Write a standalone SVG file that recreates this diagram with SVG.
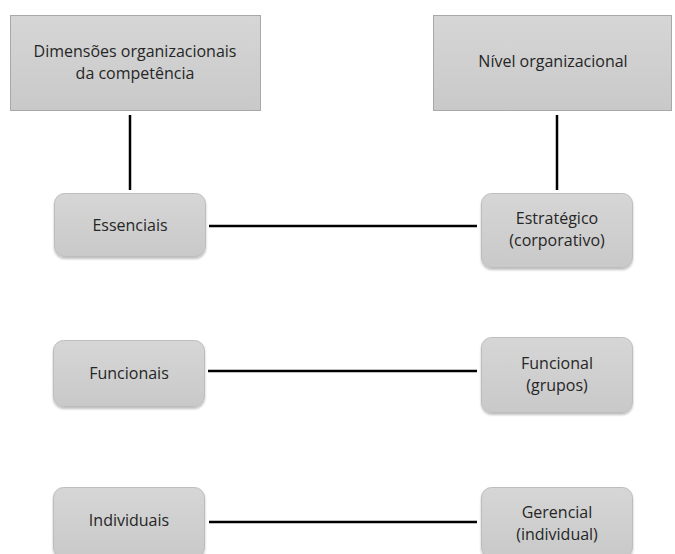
<svg xmlns="http://www.w3.org/2000/svg" width="675" height="554" viewBox="0 0 675 554">
<defs>
<linearGradient id="g" x1="0" y1="0" x2="0" y2="1">
<stop offset="0" stop-color="#d6d6d6"/>
<stop offset="1" stop-color="#c9c9c9"/>
</linearGradient>
<filter id="sh" x="-10%" y="-10%" width="120%" height="130%">
<feGaussianBlur in="SourceAlpha" stdDeviation="1.2"/>
<feOffset dx="0" dy="1.5" result="b"/>
<feComponentTransfer><feFuncA type="linear" slope="0.25"/></feComponentTransfer>
<feMerge><feMergeNode/><feMergeNode in="SourceGraphic"/></feMerge>
</filter>
</defs>
<style>
.hdr{fill:url(#g);stroke:#a8a8a8;stroke-width:1}
.box{fill:url(#g);stroke:#bdbdbd;stroke-width:1;filter:url(#sh)}
text{font-family:"Open Sans","Liberation Sans",sans-serif;font-size:16px;fill:#262626;text-anchor:middle}
.ln{stroke:#000;stroke-width:2.5;fill:none}
</style>
<rect width="675" height="554" fill="#fff"/>
<g id="connectors">
<line class="ln" x1="130" y1="115" x2="130" y2="190"/>
<line class="ln" x1="557" y1="115" x2="557" y2="190"/>
<line class="ln" x1="209" y1="226" x2="477" y2="226"/>
<line class="ln" x1="208" y1="371" x2="477" y2="371"/>
<line class="ln" x1="209" y1="522" x2="477" y2="522"/>
</g>
<g id="dim">
<rect class="hdr" x="10.5" y="15.5" width="250" height="95"/>
<text x="135" y="57">Dimensões organizacionais</text>
<text x="135" y="79">da competência</text>
</g>
<g id="nivel">
<rect class="hdr" x="433.5" y="15.5" width="238" height="95"/>
<text x="553" y="67">Nível organizacional</text>
</g>
<g id="essenciais">
<rect class="box" x="54.5" y="193.5" width="151" height="63" rx="10"/>
<text x="130" y="231">Essenciais</text>
</g>
<g id="estrategico">
<rect class="box" x="481.5" y="193.5" width="151" height="74" rx="10"/>
<text x="557" y="224">Estratégico</text>
<text x="557" y="246">(corporativo)</text>
</g>
<g id="funcionais">
<rect class="box" x="53.5" y="340.5" width="151" height="66" rx="10"/>
<text x="129" y="379">Funcionais</text>
</g>
<g id="funcional">
<rect class="box" x="481.5" y="337.5" width="151" height="75" rx="10"/>
<text x="557" y="369">Funcional</text>
<text x="557" y="391">(grupos)</text>
</g>
<g id="individuais">
<rect class="box" x="53.5" y="487.5" width="151" height="70" rx="10"/>
<text x="129" y="526">Individuais</text>
</g>
<g id="gerencial">
<rect class="box" x="481.5" y="487.5" width="151" height="70" rx="10"/>
<text x="557" y="518">Gerencial</text>
<text x="557" y="540">(individual)</text>
</g>
</svg>
